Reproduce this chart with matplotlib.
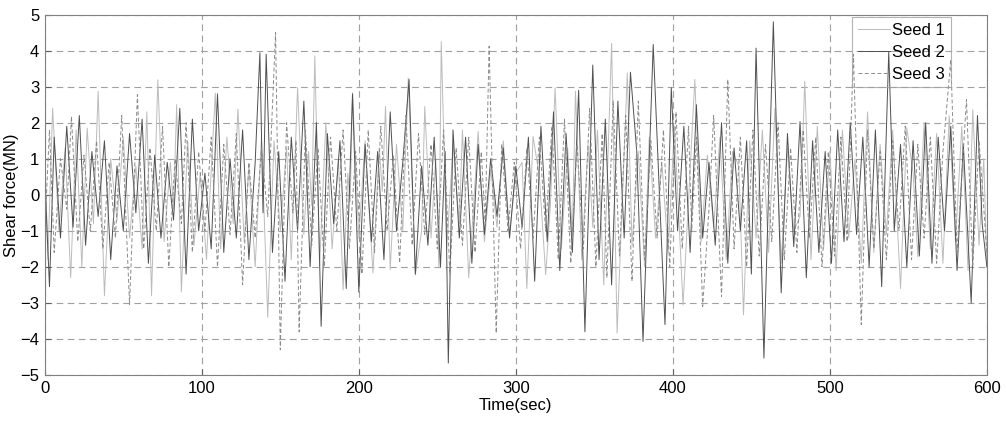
import matplotlib
matplotlib.use("Agg")
import matplotlib.pyplot as plt

plt.rcParams['font.family'] = ['Liberation Sans', 'DejaVu Sans']

# ---------------- data (turning points) ----------------
t1 = [0, 2, 5, 9, 13, 16.5, 20, 23.6, 27, 31, 34, 38, 42, 46, 50, 54, 58, 62, 65, 68,
      72, 76, 80, 82, 84, 87, 91, 95, 99, 103, 108.6, 112, 116, 120, 123, 127, 130, 134,
      138, 142, 146, 150, 154, 157, 161, 165, 168, 170, 172, 175, 179, 183, 187, 190, 193,
      194.5, 196, 200, 204, 209, 213, 215, 217, 220, 224, 228, 231.5, 236, 240, 242, 246,
      249, 251, 252.5, 256, 260, 264, 266, 270, 273, 276, 280, 284, 288, 292, 296, 300,
      304, 307, 311, 315, 319, 322, 325, 329, 333, 336, 338, 342, 346, 349, 352, 356, 361,
      364.5, 371, 374, 378, 382, 385, 389, 393, 397, 401, 406.5, 414, 418, 422, 426, 430,
      434, 438, 442, 445, 449, 453, 457, 461, 465, 469, 473, 477, 481, 484, 488, 492, 496,
      500, 504, 508, 512, 516, 520, 524, 528, 532, 536, 540, 545, 549, 553, 556, 560, 564,
      568, 572, 576, 580, 584, 588, 591, 595, 598, 600]
seed1 = [1.2, -1.8, 2.4, -1.0, 1.3, -2.3, 1.8, -2.0, 1.85, -0.8, 2.87, -2.8, 1.0, -0.7, 1.6,
         -1.2, 0.8, -1.5, 2.3, -2.8, 3.19, -1.3, 0.9, -0.4, 2.5, -2.7, 1.5, -1.4, 0.6, -1.8,
         2.82, -1.5, 1.6, -0.8, 2.38, -1.3, 0.8, -2.0, 1.6, -3.4, 1.5, -1.0, 1.3, -1.8, 2.97,
         -1.1, 1.2, -0.3, 3.85, -2.0, 2.0, -1.5, 1.0, -2.64, 0.6, -0.2, 2.83, -1.2, 1.5,
         -2.17, 1.3, 0.1, 2.45, -2.08, 1.4, -1.0, 3.24, -2.22, -1.0, 2.45, -1.2, 1.0, -2.03,
         4.25, -1.5, 1.4, -0.8, 1.8, -2.3, -0.4, 1.76, -1.3, 0.7, -0.9, 1.5, -1.1, 0.6, 0.9,
         -2.6, 1.62, 0.5, -2.22, -0.3, 2.97, -1.5, 1.3, -1.1, 2.87, -1.8, 1.4, -0.9, 1.8,
         -2.5, 4.2, -3.84, 3.38, -1.4, 1.2, -2.0, 1.6, -1.2, 0.9, -1.6, 1.9, -3.06, 3.2, -1.3,
         1.1, -0.9, 1.6, -1.8, 1.2, 0.8, -3.33, 1.5, -1.2, 1.8, -1.6, 2.4, -1.9, 1.3, -1.0,
         -0.6, 3.15, -1.8, 1.9, -1.5, 1.2, -2.1, 1.8, -1.2, 1.0, -1.9, 2.3, -1.6, 1.4, -1.1,
         1.8, -2.6, 1.86, 0.6, -1.72, 2.0, -1.5, 1.7, -1.9, 2.2, -1.3, 1.9, -2.1, 2.36, -1.4,
         1.0, -2.0]

t2 = [0, 3, 6, 10, 14, 18, 22, 26, 30, 34, 38, 42, 46, 50, 54, 58, 62, 66, 70, 74, 78, 82,
      86, 90, 94, 98, 102, 106, 110, 114, 118, 122, 126, 130, 134, 137, 139, 141, 145, 149,
      153, 157, 161, 165, 169, 173, 176, 180, 184, 188, 192, 196, 200, 204, 208, 212, 216,
      220, 224, 228, 232, 236, 240, 244, 248, 252, 255, 257, 260, 264, 268, 272, 276, 280,
      284, 288, 292, 296, 300, 304, 308, 312, 316, 320, 324, 328, 332, 336, 340, 344, 349,
      353, 357, 361, 365, 369, 373, 377, 381, 387.5, 391, 395, 399, 403, 407, 411, 415, 419,
      423, 427, 431, 435, 439, 443, 447, 450, 453, 458, 464, 469, 473, 477, 481, 485, 489,
      493, 497, 501, 505, 509, 513, 517, 521, 525, 529, 533, 537.5, 541, 545, 549, 553, 557,
      561, 565, 569, 573, 577, 581, 585, 590, 594, 597, 600]
seed2 = [0.5, -2.55, 1.6, -1.2, 1.9, -0.9, 2.2, -1.4, 1.2, -0.6, 1.5, -1.8, 0.8, -1.0, 1.7,
         -0.5, 2.1, -1.9, 1.1, -1.2, 0.9, -0.7, 2.4, -2.2, 2.1, -1.0, 0.6, -1.5, 2.8, -1.6,
         1.0, -1.2, 1.8, -1.8, 0.9, 3.94, -0.5, 3.9, -1.6, 1.2, -2.4, 1.6, -1.0, 2.6, -2.0,
         2.0, -3.65, 1.7, -0.8, 1.5, -2.6, 2.8, -2.7, 1.4, -1.3, 1.2, -1.8, 2.3, -1.0, 0.9,
         3.2, -2.2, 0.8, -1.4, 1.6, -2.0, 1.2, -4.67, 1.8, -1.2, 1.6, -1.9, 1.4, -1.1, 1.0,
         -0.6, 1.3, -1.2, 0.8, -0.9, 1.6, -2.4, 1.9, -1.3, 2.3, -2.1, 1.7, -1.6, 2.9, -3.8,
         3.6, -1.8, 2.1, -2.5, 2.6, -1.2, 3.4, 1.2, -4.07, 4.17, 0.5, -3.6, 2.97, -1.0, 1.9,
         -1.6, 2.5, -1.2, 0.9, -1.4, 2.0, -1.9, 1.3, -1.0, 1.5, -2.2, 4.07, -4.53, 4.8, -2.72,
         1.7, -1.44, 2.03, -2.3, 1.5, -1.6, 1.2, -1.9, 1.8, -1.3, 2.0, -1.1, 1.6, -2.0, 1.8,
         -2.55, 3.97, -1.0, 1.4, -2.0, 1.5, -1.7, 2.0, -1.9, 1.6, -1.0, 1.9, -2.1, 1.4, -3.0,
         2.2, -0.8, -2.0]

t3 = [0, 3, 6, 10, 14, 17, 21, 25, 29, 33, 37, 41, 45, 49, 54, 59, 63, 67, 71, 75, 79, 83,
      87, 90, 94, 98, 102, 106, 110, 114, 118, 122, 126, 130, 134, 138, 142, 147, 150, 154,
      158, 160, 162, 166, 170, 174, 178, 182, 186, 190, 194, 198, 202, 206, 210, 214, 218,
      222, 226, 230, 234, 238, 242, 246, 250, 254, 258, 262, 266, 270, 274, 278, 280.5, 283,
      287.5, 291, 295, 299, 303, 307, 311, 315, 319, 323, 327, 331, 335, 339, 343, 347, 351,
      355, 358, 362, 366, 370, 374, 378, 382, 386, 390, 394, 398, 402, 406, 410, 412, 415,
      419, 423, 426, 431, 435, 439, 443, 447, 451, 455, 459, 463, 467, 471, 475, 479, 483,
      487, 491, 495, 499, 503, 507, 511, 515, 520, 524, 528, 532, 536, 540, 544, 548, 552,
      556, 560, 564, 568, 572, 577, 581, 587, 591, 595, 600]
seed3 = [-1.0, 1.8, -1.6, 1.0, -0.4, 2.17, -1.3, 1.1, -1.0, 1.5, -1.5, 0.9, -1.2, 2.2, -3.05,
         2.78, -1.5, 1.3, -1.0, 1.9, -2.0, 1.0, -0.8, 2.0, -1.6, 1.2, -1.0, 1.6, -2.0, 1.4,
         -1.1, 1.7, -2.5, 0.9, -1.2, 1.3, -0.6, 4.5, -4.3, 2.0, -0.5, 1.5, -3.8, 1.8, -1.4,
         1.3, -2.0, 1.6, -1.0, 1.8, -1.5, 1.2, -2.2, 1.8, -1.6, 1.9, -1.0, 1.1, -1.9, 2.2,
         -1.4, 1.7, -1.1, 1.4, -1.5, 1.8, -2.2, 1.3, -1.4, 1.6, -1.6, 1.2, -0.8, 4.12, -3.84,
         1.4, -1.0, 0.9, -1.5, 1.3, -1.2, 1.6, -1.0, 1.9, -1.8, 2.1, -1.9, 1.4, -1.5, 2.4,
         -2.0, 1.7, -2.3, 2.6, -1.7, 2.2, -2.4, 2.6, -1.8, 1.5, -1.2, 1.8, -2.0, 2.3, -1.5,
         1.9, -1.0, 1.6, -3.1, -0.4, 2.2, -2.83, 3.2, -1.5, 1.6, -2.0, 1.8, -1.7, 1.4, -1.3,
         2.0, -1.8, 1.3, -1.6, 1.8, -1.2, 1.6, -2.0, 1.2, -1.7, 1.6, -1.3, 3.9, -3.6, 1.8,
         -1.5, 1.2, -1.8, 1.5, -1.0, 1.9, -1.8, 1.4, -1.2, 1.6, -1.9, 1.2, 3.75, -1.6, 2.64,
         -2.0, 1.5, -1.6]

labels = ["Seed 1", "Seed 2", "Seed 3"]
xticks = [0, 100, 200, 300, 400, 500, 600]
yticks = [-5, -4, -3, -2, -1, 0, 1, 2, 3, 4, 5]

# ---------------- figure ----------------
fig = plt.figure(figsize=(10.06, 4.23), dpi=100)
ax = fig.add_axes([0.0445, 0.1135, 0.9365, 0.852])

ax.plot(t1, seed1, color='#bcbcbc', lw=0.7, label=labels[0])
ax.plot(t2, seed2, color='#505050', lw=0.7, label=labels[1])
ax.plot(t3, seed3, color='#8a8a8a', lw=0.7, ls=(0, (4, 2.5)), label=labels[2])

ax.set_xlim(0, 600)
ax.set_ylim(-5, 5)
ax.set_xticks(xticks)
ax.set_yticks(yticks)
ax.tick_params(direction='in', length=4, color='#606060', labelsize=12, pad=4)
ax.grid(True, color='#a0a0a0', ls=(0, (6, 4)), lw=0.8)
for s in ax.spines.values():
    s.set_color('#808080')
    s.set_linewidth(0.8)

ax.set_xlabel('Time(sec)', fontsize=12, labelpad=2)
ax.set_ylabel('Shear force(MN)', fontsize=12, labelpad=1)

leg = ax.legend(loc='upper right', bbox_to_anchor=(0.962, 0.994), fontsize=12,
                frameon=True, fancybox=False, edgecolor='#a0a0a0',
                handlelength=1.9, handletextpad=0.15, borderpad=0.35, labelspacing=0.42,
                borderaxespad=0.0)
leg.get_frame().set_facecolor('none')
leg.get_frame().set_linewidth(0.8)

fig.savefig('out.png', dpi=100)
